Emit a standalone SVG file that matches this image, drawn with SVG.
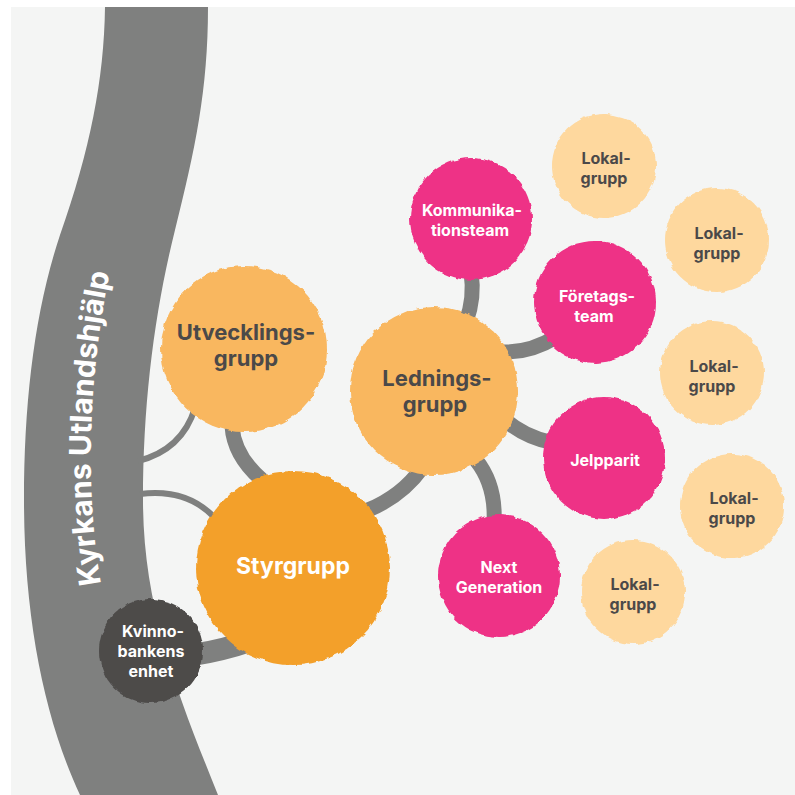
<svg xmlns="http://www.w3.org/2000/svg" width="795" height="795" viewBox="0 0 795 795">
<defs>
<filter id="wob" x="-10%" y="-10%" width="120%" height="120%">
<feTurbulence type="fractalNoise" baseFrequency="0.15" numOctaves="1" seed="4"/>
<feDisplacementMap in="SourceGraphic" scale="5" xChannelSelector="R" yChannelSelector="G"/>
</filter>
<path id="bandPath" d="M101,584 C86,500 86,380 112,262"/>
</defs>
<style>
.bg{fill:#f4f5f4}
.band{fill:#7f807f}
.c{fill:none;stroke:#7f807f}
.thick{stroke-width:15}
.thin{stroke-width:6}
.n{filter:url(#wob)}
.lo{fill:#f9b75f}
.st{fill:#f3a02b}
.pk{fill:#ee3186}
.lk{fill:#fed89e}
.kv{fill:#4d4b4a}
.t{font-family:Inter,"Noto Sans",sans-serif;font-weight:700;text-anchor:middle}
.dk{fill:#4b4949}
.wh{fill:#ffffff}
.big{font-size:22px}
.sm{font-size:16px}
.bt{font-family:Inter,"Noto Sans",sans-serif;font-weight:700;font-size:30px;fill:#ffffff}
</style>
<rect class="bg" x="11" y="7" width="784" height="788"/>
<g id="band">
<path class="band" d="M105,7 C104,80 90,150 60,235 C35,310 24,400 24,500 C24,620 45,720 80,795 L218,795 C180,700 143,610 143,500 C143,400 155,310 175,230 C195,150 208,90 208,7 Z"/>
<text class="bt"><textPath href="#bandPath">Kyrkans Utlandshjälp</textPath></text>
</g>
<g id="connectors">
<path class="c thin" d="M138,461 Q182,450 195,408"/>
<path class="c thin" d="M140,494 Q186,488 214,517"/>
<path class="c thick" d="M232,426 Q234,456 262,480"/>
<path class="c thick" d="M422,468 Q402,496 368,510"/>
<path class="c thick" d="M471,272 Q475,298 466,322"/>
<path class="c thick" d="M503,352 Q530,353 556,337"/>
<path class="c thick" d="M505,420 Q525,437 550,442"/>
<path class="c thick" d="M476,460 Q496,485 494,522"/>
<path class="c" style="stroke-width:22" d="M192,655 Q225,650 258,638"/>
</g>
<g id="utvecklingsgrupp">
<circle class="n lo" cx="244" cy="349" r="83"/>
<text class="t dk big" x="246" y="340">Utvecklings-</text>
<text class="t dk big" x="246" y="366">grupp</text>
</g>
<g id="styrgrupp">
<circle class="n st" cx="293" cy="568" r="97"/>
<text class="t wh" style="font-size:23px" x="293" y="574">Styrgrupp</text>
</g>
<g id="ledningsgrupp">
<circle class="n lo" cx="434" cy="391" r="84"/>
<text class="t dk big" x="437" y="386">Lednings-</text>
<text class="t dk big" x="435" y="412">grupp</text>
</g>
<g id="kommunikationsteam">
<circle class="n pk" cx="471" cy="219" r="61"/>
<text class="t wh sm" x="472" y="216">Kommunika-</text>
<text class="t wh sm" x="470" y="236">tionsteam</text>
</g>
<g id="foretagsteam">
<circle class="n pk" cx="595" cy="302" r="61"/>
<text class="t wh sm" x="597" y="302">Företags-</text>
<text class="t wh sm" x="594" y="322">team</text>
</g>
<g id="jelpparit">
<circle class="n pk" cx="604" cy="458" r="61"/>
<text class="t wh sm" x="605" y="466">Jelpparit</text>
</g>
<g id="nextgeneration">
<circle class="n pk" cx="499" cy="576" r="61"/>
<text class="t wh sm" x="499" y="573">Next</text>
<text class="t wh sm" x="499" y="593">Generation</text>
</g>
<g id="kvinnobankens">
<circle class="n kv" cx="151" cy="651" r="52"/>
<text class="t wh sm" x="153" y="637">Kvinno-</text>
<text class="t wh sm" x="151" y="657">bankens</text>
<text class="t wh sm" x="151" y="677">enhet</text>
</g>
<g id="lokal1">
<circle class="n lk" cx="604" cy="166" r="52"/>
<text class="t dk sm" x="606" y="164">Lokal-</text>
<text class="t dk sm" x="604" y="184">grupp</text>
</g>
<g id="lokal2">
<circle class="n lk" cx="717" cy="240" r="52"/>
<text class="t dk sm" x="719" y="239">Lokal-</text>
<text class="t dk sm" x="717" y="259">grupp</text>
</g>
<g id="lokal3">
<circle class="n lk" cx="712" cy="373" r="52"/>
<text class="t dk sm" x="714" y="372">Lokal-</text>
<text class="t dk sm" x="712" y="392">grupp</text>
</g>
<g id="lokal4">
<circle class="n lk" cx="732" cy="506" r="52"/>
<text class="t dk sm" x="734" y="504">Lokal-</text>
<text class="t dk sm" x="732" y="524">grupp</text>
</g>
<g id="lokal5">
<circle class="n lk" cx="633" cy="592" r="52"/>
<text class="t dk sm" x="635" y="590">Lokal-</text>
<text class="t dk sm" x="633" y="610">grupp</text>
</g>
</svg>
